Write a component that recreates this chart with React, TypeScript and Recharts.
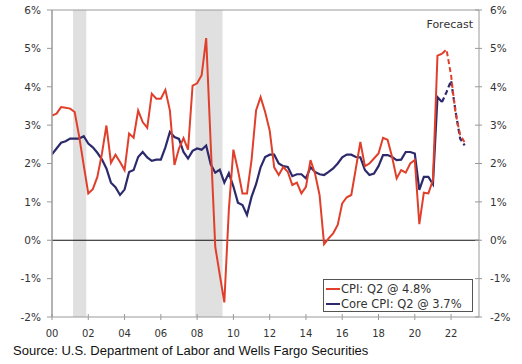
import React from 'react';
import { LineChart, Line, XAxis, YAxis, ReferenceArea, ReferenceLine } from 'recharts';

// quarterly, year-over-year % change, starting 2000 Q1
const cpi = [
  3.25, 3.3, 3.47, 3.45,
  3.43, 3.34, 2.7, 1.95,
  1.22, 1.33, 1.65, 2.25,
  2.99, 2.02, 2.23, 2.04,
  1.83, 2.78, 2.67, 3.38,
  3.08, 2.93, 3.82, 3.69,
  3.69, 3.92, 3.38, 1.96,
  2.39, 2.66, 2.36, 4.03,
  4.09, 4.3, 5.27, 2.5,
  -0.17, -0.9, -1.62, 0.8,
  2.36, 1.83, 1.22, 1.22,
  2.09, 3.38, 3.73, 3.34,
  2.86, 1.9, 1.7, 1.91,
  1.78, 1.44, 1.5, 1.22,
  1.39, 2.09, 1.74, 1.18,
  -0.1, 0.05, 0.18, 0.4,
  0.96, 1.12, 1.18, 1.87,
  2.56, 1.93, 2.0, 2.13,
  2.26, 2.67, 2.62, 2.17,
  1.61, 1.83, 1.76, 2.0,
  2.09, 0.42, 1.24, 1.22,
  1.57, 4.81, 4.86,
];
const coreCpi = [
  2.24, 2.39, 2.54, 2.58,
  2.65, 2.65, 2.65, 2.71,
  2.52, 2.42, 2.28, 2.11,
  1.87, 1.5, 1.38, 1.18,
  1.32, 1.78, 1.83, 2.17,
  2.3, 2.16, 2.07, 2.1,
  2.1, 2.42, 2.82, 2.69,
  2.64, 2.3, 2.13, 2.33,
  2.39, 2.36, 2.47, 1.98,
  1.76, 1.84, 1.5, 1.75,
  1.4, 0.98, 0.92, 0.66,
  1.13, 1.46, 1.9, 2.17,
  2.23, 2.23, 2.0, 1.93,
  1.91, 1.67, 1.72, 1.72,
  1.61, 1.9, 1.78, 1.72,
  1.7, 1.78, 1.87, 2.0,
  2.16, 2.23, 2.23, 2.17,
  2.16, 1.83, 1.7, 1.74,
  1.93, 2.22, 2.22, 2.17,
  2.09, 2.1, 2.3, 2.3,
  2.26, 1.31, 1.65, 1.65,
  1.46, 3.73, 3.6,
];
// forecast, 2021 Q3 through 2022 Q4
const cpiForecast = [4.86, 4.97, 4.3, 3.3, 2.75, 2.55];
const coreForecast = [3.6, 3.86, 4.16, 3.35, 2.65, 2.47];

const recessions = [
  [2001.16, 2001.89],
  [2007.9, 2009.4],
];
const xTicks = [2000, 2002, 2004, 2006, 2008, 2010, 2012, 2014, 2016, 2018, 2020, 2022];
const yTicks = [-2, -1, 0, 1, 2, 3, 4, 5, 6];
const legendItems = ['CPI: Q2 @ 4.8%', 'Core CPI: Q2 @ 3.7%'];

const RED = '#e0402b';
const NAVY = '#2d2a6c';
const AXIS = '#9a9a9a';
const FONT = '"DejaVu Sans", Verdana, sans-serif';

const forecastStart = cpi.length - 1;
const data = Array.from({ length: forecastStart + cpiForecast.length }, (_, i) => ({
  t: 2000 + i / 4,
  cpi: i < cpi.length ? cpi[i] : undefined,
  core: i < coreCpi.length ? coreCpi[i] : undefined,
  cpiF: i >= forecastStart ? cpiForecast[i - forecastStart] : undefined,
  coreF: i >= forecastStart ? coreForecast[i - forecastStart] : undefined,
}));

const XTick = ({ x, y, payload }: any) => (
  <g>
    <line x1={x} x2={x} y1={y - 3} y2={y + 3} stroke={AXIS} />
    <text x={x} y={y + 20} textAnchor="middle" fontSize={10} fill="#333" fontFamily={FONT}>
      {String(payload.value % 100).padStart(2, '0')}
    </text>
  </g>
);

const LeftTick = ({ x, y, payload }: any) => (
  <g>
    <line x1={x - 5} x2={x} y1={y} y2={y} stroke={AXIS} />
    <text x={x - 11} y={y} dy="0.36em" textAnchor="end" fontSize={10.5} fill="#333" fontFamily={FONT}>
      {payload.value}%
    </text>
  </g>
);

const RightTick = ({ x, y, payload }: any) => (
  <g>
    <line x1={x - 4} x2={x + 3} y1={y} y2={y} stroke={AXIS} />
    <text x={x + 11} y={y} dy="0.36em" textAnchor="start" fontSize={10.5} fill="#333" fontFamily={FONT}>
      {payload.value}%
    </text>
  </g>
);

export default function App() {
  return (
    <div style={{ position: 'absolute', left: 0, top: 0, width: 522, height: 364, background: '#fff' }}>
      <LineChart width={522} height={364} data={data} margin={{ top: 10, right: 0, bottom: 27, left: 0 }}>
        {recessions.map(([a, b]) => (
          <ReferenceArea key={a} x1={a} x2={b} y1={-2} y2={6} yAxisId="left" fill="#e0e0e0" fillOpacity={1} stroke="none" />
        ))}
        <XAxis
          dataKey="t"
          type="number"
          domain={[2000, 2023.54]}
          ticks={xTicks}
          allowDataOverflow
          height={20}
          tickSize={0}
          tickMargin={0}
          tickLine={false}
          tick={<XTick />}
          stroke={AXIS}
          interval={0}
        />
        <YAxis
          yAxisId="left"
          domain={[-2, 6]}
          ticks={yTicks}
          width={52}
          tickSize={0}
          tickMargin={0}
          tickLine={false}
          tick={<LeftTick />}
          stroke={AXIS}
          strokeWidth={1.5}
          interval={0}
        />
        <YAxis
          yAxisId="right"
          orientation="right"
          domain={[-2, 6]}
          ticks={yTicks}
          width={43}
          tickSize={0}
          tickMargin={0}
          tickLine={false}
          tick={<RightTick />}
          stroke={AXIS}
          interval={0}
        />
        <ReferenceLine y={6} yAxisId="left" stroke={AXIS} />
        <ReferenceLine y={0} yAxisId="left" stroke="#111" />
        {/* invisible copy so the right axis gets drawn */}
        <Line yAxisId="right" dataKey="core" stroke="none" dot={false} activeDot={false} isAnimationActive={false} />
        <Line yAxisId="left" dataKey="core" stroke={NAVY} strokeWidth={2.2} dot={false} isAnimationActive={false} />
        <Line yAxisId="left" dataKey="cpi" stroke={RED} strokeWidth={2} dot={false} isAnimationActive={false} />
        <Line yAxisId="left" dataKey="coreF" stroke={NAVY} strokeWidth={2.2} strokeDasharray="5 3" dot={false} isAnimationActive={false} />
        <Line yAxisId="left" dataKey="cpiF" stroke={RED} strokeWidth={2} strokeDasharray="5 3" dot={false} isAnimationActive={false} />
      </LineChart>
      <div
        style={{
          position: 'absolute',
          left: 323,
          top: 279,
          width: 150,
          height: 33,
          border: '1px solid #555',
          background: '#fff',
          padding: '1px 0 0 2px',
          fontFamily: FONT,
          fontSize: 11.5,
          color: '#333',
          boxSizing: 'border-box',
        }}
      >
        {legendItems.map((label, i) => (
          <div key={label} style={{ display: 'flex', alignItems: 'center', height: 15 }}>
            <span style={{ display: 'inline-block', width: 14, height: 2, background: i === 0 ? RED : NAVY, marginRight: 1 }} />
            <span>{label}</span>
          </div>
        ))}
      </div>
      <div
        style={{
          position: 'absolute',
          right: 49,
          top: 18,
          fontFamily: FONT,
          fontSize: 11,
          lineHeight: '13px',
          color: '#333',
        }}
      >
        Forecast
      </div>
      <div
        style={{
          position: 'absolute',
          left: 13,
          top: 343,
          fontFamily: '"Liberation Sans", Arial, sans-serif',
          fontSize: 13,
          lineHeight: '15px',
          color: '#111',
          whiteSpace: 'nowrap',
        }}
      >
        Source: U.S. Department of Labor and Wells Fargo Securities
      </div>
    </div>
  );
}
